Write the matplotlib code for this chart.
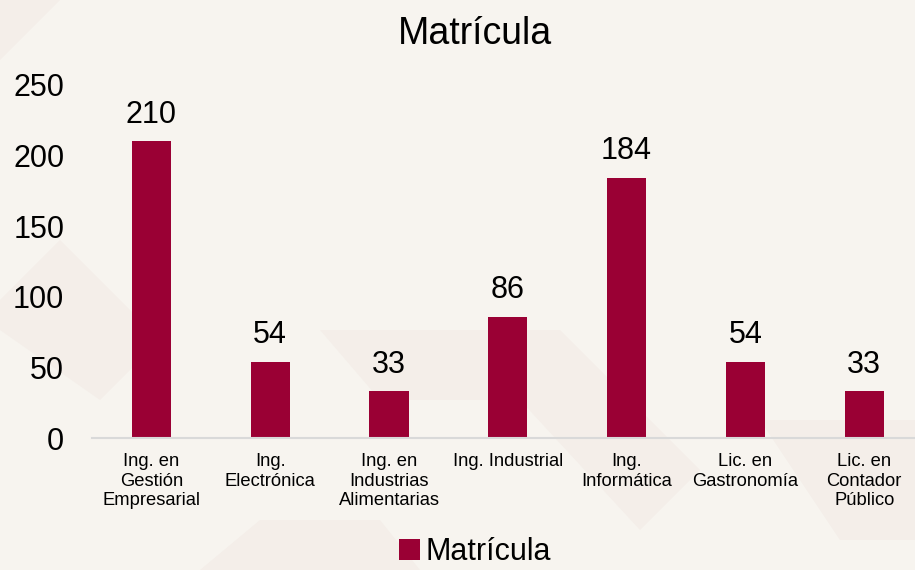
import matplotlib
matplotlib.use("Agg")
import matplotlib.pyplot as plt
from matplotlib.patches import Polygon

plt.rcParams['font.family'] = ['Liberation Sans', 'DejaVu Sans']

categories = ["Ing. en\nGestión\nEmpresarial", "Ing.\nElectrónica", "Ing. en\nIndustrias\nAlimentarias",
              "Ing. Industrial", "Ing.\nInformática", "Lic. en\nGastronomía", "Lic. en\nContador\nPúblico"]
values = [210, 54, 33, 86, 184, 54, 33]
yticks = [0, 50, 100, 150, 200, 250]
series_name = "Matrícula"
title = "Matrícula"

bg = "#f7f4ef"
bar_color = "#9a0034"

W, H = 915, 570
fig = plt.figure(figsize=(W / 100, H / 100), dpi=100, facecolor=bg)

# faint decorative background shapes (pixel coords, y measured from top)
shape_color = "#f4eee9"
shapes = [
    [(0, 0), (60, 0), (0, 60)],
    [(0, 300), (60, 240), (160, 340), (100, 400), (0, 330)],
    [(320, 330), (560, 330), (700, 470), (640, 530), (520, 400), (380, 400)],
    [(760, 420), (915, 420), (915, 540), (840, 540)],
    [(200, 570), (420, 570), (380, 520), (260, 520)],
]
for pts in shapes:
    fig.patches.append(Polygon([(x / W, 1 - y / H) for x, y in pts], closed=True,
                               transform=fig.transFigure, facecolor=shape_color,
                               edgecolor='none', zorder=-1))

ax = fig.add_axes([92 / W, 1 - 438 / H, 831.6 / W, 353 / H])
ax.set_facecolor('none')

x = list(range(len(categories)))
bars = ax.bar(x, values, width=0.33, color=bar_color, label=series_name, zorder=3)

ax.set_xlim(-0.5, 6.5)
ax.set_ylim(0, 250)
ax.set_yticks(yticks)
ax.set_xticks(x)
ax.set_xticklabels(categories, fontsize=13.2, linespacing=1.2)
ax.tick_params(axis='y', length=0, pad=20, labelsize=22)
ax.tick_params(axis='x', length=0, pad=11)
for s in ['top', 'right', 'left']:
    ax.spines[s].set_visible(False)
ax.spines['bottom'].set_color('#d9d9d9')
ax.spines['bottom'].set_linewidth(1.5)
ax.spines['bottom'].set_zorder(4)

for rect, v in zip(bars, values):
    ax.annotate(str(v), (rect.get_x() + rect.get_width() / 2, v),
                xytext=(0, 8.5), textcoords='offset points',
                ha='center', va='bottom', fontsize=22, color='black')

fig.text(475 / W, 1 - 44 / H, title, ha='center', va='baseline', fontsize=27, color='black')

fig.legend(handles=[bars], labels=[series_name], loc='center',
           bbox_to_anchor=(475 / W, 1 - 552 / H), frameon=False, fontsize=22,
           handlelength=0.7, handleheight=0.7, handletextpad=0.2, borderpad=0)

fig.savefig("out.png", dpi=100, facecolor=bg)
